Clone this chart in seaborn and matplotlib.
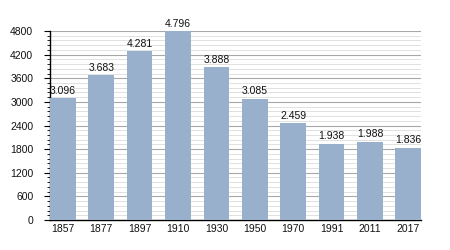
import matplotlib
matplotlib.use("Agg")
import matplotlib.pyplot as plt
import seaborn as sns
import pandas as pd
from matplotlib.ticker import MultipleLocator

years = ["1857", "1877", "1897", "1910", "1930", "1950", "1970", "1991", "2011", "2017"]
population = [3096, 3683, 4281, 4796, 3888, 3085, 2459, 1938, 1988, 1836]
labels = ["3.096", "3.683", "4.281", "4.796", "3.888", "3.085", "2.459", "1.938", "1.988", "1.836"]

sns.set_style("white")
plt.rcParams['font.family'] = ['Liberation Sans', 'DejaVu Sans']

df = pd.DataFrame({"year": years, "pop": population})
fig = plt.figure(figsize=(4.5, 2.5), dpi=100)
ax = fig.add_axes([0.111, 0.12, 0.825, 0.756])
width = 0.67
sns.barplot(data=df, x="year", y="pop", color="#98b0cc", saturation=1, width=width,
            ax=ax, zorder=3, linewidth=0, edgecolor="none")

ax.set_ylim(0, 4800)
ax.set_xlim(-width / 2, len(years) - 1 + width / 2)
ax.yaxis.set_major_locator(MultipleLocator(600))
ax.yaxis.set_minor_locator(MultipleLocator(120))
ax.grid(which="major", axis="y", color="#a8a8a8", linewidth=0.8, zorder=0)
ax.grid(which="minor", axis="y", color="#dcdcdc", linewidth=0.6, zorder=0)
ax.set_axisbelow(True)
for s in ["top", "right"]:
    ax.spines[s].set_visible(False)
ax.spines["left"].set_color("black")
ax.spines["bottom"].set_color("black")
ax.spines["left"].set_linewidth(1.0)
ax.spines["bottom"].set_linewidth(1.0)
ax.tick_params(axis="y", which="major", length=4, width=0.8, color="black", labelsize=7.5,
               labelcolor="#111111", pad=8, left=True)
ax.tick_params(axis="y", which="minor", length=2, width=0.6, color="black", left=True)
ax.tick_params(axis="x", length=0, labelsize=7.5, labelcolor="#111111", pad=3)
ax.set_xlabel("")
ax.set_ylabel("")

for i, (v, t) in enumerate(zip(population, labels)):
    ax.text(i, v + 60, t, ha="center", va="bottom", fontsize=7.5, color="#111111")

fig.savefig("out.png", dpi=100)
